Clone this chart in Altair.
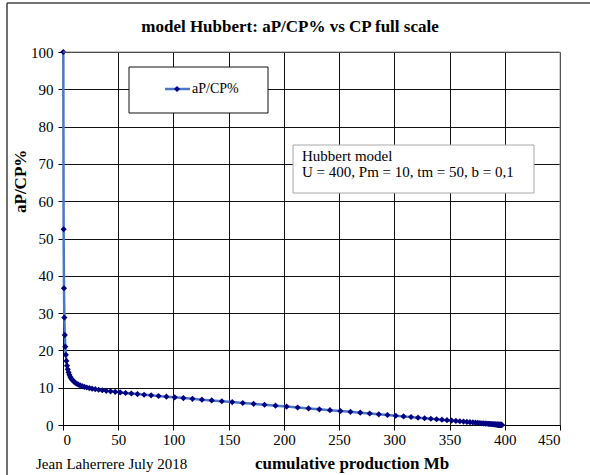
import altair as alt
import pandas as pd

# cumulative production CP (Mb), one point per year of the Hubbert model
cp = [0.27, 0.56, 0.88, 1.24, 1.63, 2.07, 2.55, 3.08, 3.66, 4.30,
      5.01, 5.78, 6.64, 7.58, 8.62, 9.76, 11.01, 12.38, 13.88, 15.53,
      17.34, 19.32, 21.48, 23.84, 26.41, 29.22, 32.27, 35.58, 39.17, 43.06,
      47.26, 51.79, 56.66, 61.88, 67.47, 73.44, 79.79, 86.52, 93.63, 101.13,
      108.99, 117.21, 125.77, 134.64, 143.79, 153.19, 162.80, 172.58, 182.48, 192.45,
      202.45, 212.43, 222.33, 232.11, 241.72, 251.12, 260.27, 269.14, 277.69, 285.91,
      293.78, 301.27, 308.39, 315.12, 321.47, 327.43, 333.03, 338.25, 343.12, 347.65,
      351.85, 355.73, 359.33, 362.64, 365.69, 368.49, 371.07, 373.43, 375.59, 377.57,
      379.37, 381.02, 382.53, 383.90, 385.15, 386.29, 387.32, 388.27, 389.12, 389.90,
      390.61, 391.25, 391.83, 392.36, 392.84, 393.27, 393.67, 394.02, 394.35, 394.64,
      394.91, 395.15, 395.37, 395.56, 395.74, 395.91, 396.05, 396.19, 396.31, 396.41,
      396.51, 396.60, 396.68, 396.76, 396.82, 396.88, 396.94, 396.99, 397.03, 397.07, 397.11]

# annual production / cumulative production, %
ratio = [100.0, 52.47, 36.66, 28.80, 24.11, 21.01, 18.81, 17.17, 15.91, 14.92,
         14.11, 13.45, 12.89, 12.42, 12.02, 11.67, 11.36, 11.08, 10.84, 10.62,
         10.42, 10.24, 10.06, 9.90, 9.75, 9.60, 9.45, 9.31, 9.17, 9.03,
         8.89, 8.74, 8.59, 8.44, 8.29, 8.12, 7.96, 7.78, 7.60, 7.41,
         7.22, 7.01, 6.80, 6.59, 6.36, 6.14, 5.90, 5.67, 5.43, 5.18,
         4.94, 4.70, 4.45, 4.21, 3.98, 3.74, 3.52, 3.30, 3.08, 2.87,
         2.68, 2.49, 2.31, 2.14, 1.97, 1.82, 1.68, 1.54, 1.42, 1.30,
         1.19, 1.09, 1.00, 0.91, 0.83, 0.76, 0.69, 0.63, 0.58, 0.52,
         0.48, 0.43, 0.39, 0.36, 0.32, 0.29, 0.27, 0.24, 0.22, 0.20,
         0.18, 0.16, 0.15, 0.13, 0.12, 0.11, 0.10, 0.09, 0.08, 0.07,
         0.07, 0.06, 0.06, 0.05, 0.05, 0.04, 0.04, 0.03, 0.03, 0.03,
         0.02, 0.02, 0.02, 0.02, 0.02, 0.02, 0.01, 0.01, 0.01, 0.01, 0.01]

x_ticks = [0, 50, 100, 150, 200, 250, 300, 350, 400, 450]
y_ticks = [0, 10, 20, 30, 40, 50, 60, 70, 80, 90, 100]

title_text = "model Hubbert: aP/CP% vs CP full scale"
x_title = "cumulative production Mb"
y_title = "aP/CP%"
series_name = "aP/CP%"
footer = "Jean Laherrere July 2018"
note_lines = ["Hubbert model", "U = 400, Pm = 10, tm = 50, b = 0,1"]

df = pd.DataFrame({"cp": cp, "ratio": ratio})
one = pd.DataFrame({"k": [0]})

PL, PT = 63, 52          # plot origin inside the 590x475 canvas
W, H = 497, 373
SERIF = "Liberation Serif"
LINE_BLUE = "#4a78c8"
NAVY = "#000080"


def px(v):
    return v - PL


def py(v):
    return v - PT


x_enc = alt.X(
    "cp:Q",
    scale=alt.Scale(domain=[0, 450], nice=False, zero=True),
    axis=alt.Axis(values=x_ticks, title=None, grid=True, gridColor="#111111",
                  labelPadding=2, format="d", labelOverlap=False,
                  labelFont=SERIF, labelFontSize=15, labelColor="black"),
)
y_enc = alt.Y(
    "ratio:Q",
    scale=alt.Scale(domain=[0, 100], nice=False, zero=True),
    axis=alt.Axis(values=y_ticks, title=None, grid=True, gridColor="#111111",
                  labelPadding=5, format="d", labelOverlap=False,
                  labelFont=SERIF, labelFontSize=15, labelColor="black"),
)

base = alt.Chart(df).encode(x=x_enc, y=y_enc)
line = base.mark_line(color=LINE_BLUE, strokeWidth=2.5)
pts = base.mark_point(shape="diamond", filled=True, size=38, color=NAVY, opacity=1)

ann = alt.Chart(one)

frame_left = ann.mark_rule(color="#222222", strokeWidth=1.3).encode(
    x=alt.value(px(7)), y=alt.value(py(3)), y2=alt.value(py(480)))
frame_top = ann.mark_rule(color="#444444", strokeWidth=1.3).encode(
    x=alt.value(px(7)), x2=alt.value(px(595)), y=alt.value(py(3)))
plot_top = ann.mark_rule(color="#8a8a8a", strokeWidth=1).encode(
    x=alt.value(0), x2=alt.value(W), y=alt.value(0))
plot_right = ann.mark_rule(color="#9a9a9a", strokeWidth=1).encode(
    x=alt.value(W), y=alt.value(0), y2=alt.value(H))

leg_box = ann.mark_rect(fill="white", stroke="#111111", strokeWidth=1).encode(
    x=alt.value(px(129)), x2=alt.value(px(268)), y=alt.value(py(67)), y2=alt.value(py(113)))
leg_line = ann.mark_rule(color=LINE_BLUE, strokeWidth=2.5).encode(
    x=alt.value(px(165)), x2=alt.value(px(190)), y=alt.value(py(89)))
leg_pt = ann.mark_point(shape="diamond", filled=True, size=38, color=NAVY, opacity=1).encode(
    x=alt.value(px(177)), y=alt.value(py(89)))
leg_txt = ann.mark_text(align="left", baseline="middle", font=SERIF, fontSize=14, color="black").encode(
    x=alt.value(px(192)), y=alt.value(py(89)), text=alt.value(series_name))

note_box = ann.mark_rect(fill="white", stroke="#a8a8a8", strokeWidth=1).encode(
    x=alt.value(px(293)), x2=alt.value(px(534)), y=alt.value(py(145)), y2=alt.value(py(193)))
note1 = ann.mark_text(align="left", baseline="middle", font=SERIF, fontSize=15, color="black").encode(
    x=alt.value(px(302)), y=alt.value(py(156)), text=alt.value(note_lines[0]))
note2 = ann.mark_text(align="left", baseline="middle", font=SERIF, fontSize=15, color="black").encode(
    x=alt.value(px(302)), y=alt.value(py(172)), text=alt.value(note_lines[1]))

title = ann.mark_text(align="center", baseline="middle", font=SERIF, fontSize=17, fontWeight="bold", color="black").encode(
    x=alt.value(px(290)), y=alt.value(py(27)), text=alt.value(title_text))
ytitle = ann.mark_text(align="left", baseline="middle", font=SERIF, fontSize=17, fontWeight="bold", angle=270, color="black").encode(
    x=alt.value(px(21)), y=alt.value(py(213)), text=alt.value(y_title))
xtitle = ann.mark_text(align="center", baseline="middle", font=SERIF, fontSize=17, fontWeight="bold", color="black").encode(
    x=alt.value(px(352)), y=alt.value(py(464)), text=alt.value(x_title))
foot = ann.mark_text(align="left", baseline="middle", font=SERIF, fontSize=15, color="black").encode(
    x=alt.value(px(36)), y=alt.value(py(464)), text=alt.value(footer))

chart = alt.layer(
    line, pts, plot_top, plot_right, leg_box, leg_line, leg_pt, leg_txt, note_box, note1, note2,
    title, ytitle, xtitle, foot, frame_left, frame_top,
).properties(
    width=W, height=H,
    autosize=alt.AutoSizeParams(type="none"),
    padding={"left": PL, "top": PT, "right": 590 - PL - W, "bottom": 475 - PT - H},
    background="white",
).configure_view(
    stroke=None
).configure_axis(
    labelFont=SERIF, labelFontSize=15, labelColor="black",
    domainColor="black", domainWidth=1,
    tickColor="black", tickSize=5, tickWidth=1,
    gridWidth=1,
)

chart.save("out.html", embed_options={"renderer": "svg", "actions": False})
